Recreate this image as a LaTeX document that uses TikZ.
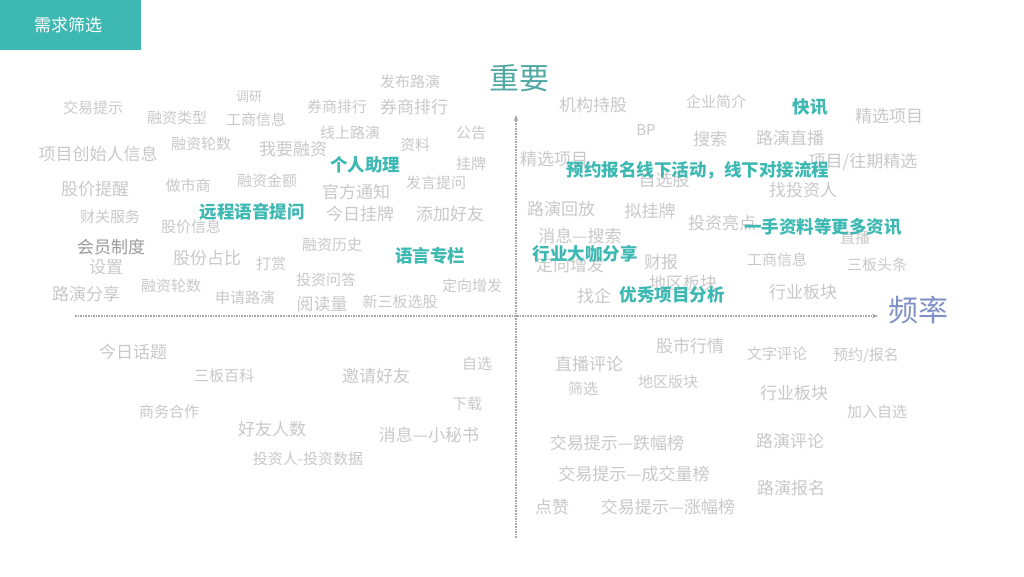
\documentclass[tikz,border=0pt]{standalone}
\usepackage{fontspec}
\setmainfont{Noto Sans CJK SC}
\usetikzlibrary{arrows.meta}
\definecolor{tealc}{HTML}{3DB8B2}
\definecolor{wordgray}{HTML}{C8C8C8}
\definecolor{blueaxis}{HTML}{8090C4}
\tikzset{
  wd/.style={text=wordgray,font=\fontsize{15}{17}\selectfont,inner sep=0pt},
  wdl/.style={wd,font=\fontsize{17}{19}\selectfont},
  wds/.style={wd,font=\fontsize{13}{15}\selectfont},
  key/.style={text=tealc,font=\bfseries\fontsize{17.5}{19}\selectfont,inner sep=0pt},
  axisline/.style={densely dotted,line width=1.6pt,draw=gray!70,-{Stealth[length=6pt]}}
}
\begin{document}
\begin{tikzpicture}[x=1pt,y=-1pt]
\useasboundingbox (0,0) rectangle (1024,576);

% title box
\fill[tealc] (0,0) rectangle (141,50);
\node (title) [text=white,font=\fontsize{17}{19}\selectfont] at (68,25) {需求筛选};

% axes
\coordinate (xs) at (75,316);
\coordinate (xe) at (878,316);
\coordinate (ys) at (516,538);
\coordinate (ye) at (516,115);
\draw[axisline] (xs) -- (xe);
\draw[axisline] (ys) -- (ye);
\node (imp) [text=tealc!70!gray,font=\fontsize{30}{34}\selectfont] at (519,78) {重要};
\node (freq) [text=blueaxis,font=\fontsize{30}{34}\selectfont] at (918,310) {频率};

% left half
\node (w1) [wd] at (93,108) {交易提示};
\node (w2) [wd] at (177,118) {融资类型};
\node (w3) [wds] at (249,97) {调研};
\node (w4) [wd] at (256,120) {工商信息};
\node (w5) [wd] at (337,107) {券商排行};
\node (w6) [wdl] at (414,107) {券商排行};
\node (w7) [wd] at (410,82) {发布路演};
\node (w8) [wd] at (471,133) {公告};
\node (w9) [wd] at (350,133) {线上路演};
\node (w10) [wd] at (415,145) {资料};
\node (w11) [wd] at (201,144) {融资轮数};
\node (w12) [wdl] at (293,149) {我要融资};
\node (w13) [wd] at (471,164) {挂牌};
\node (w14) [wdl] at (98,154) {项目创始人信息};
\node (w15) [wdl] at (95,189) {股价提醒};
\node (w16) [wd] at (188,186) {做市商};
\node (w17) [wd] at (267,181) {融资金额};
\node (w18) [wdl] at (356,192) {官方通知};
\node (w19) [wd] at (436,183) {发言提问};
\node (w20) [wdl] at (360,214) {今日挂牌};
\node (w21) [wdl] at (450,214) {添加好友};
\node (w22) [wd] at (110,217) {财关服务};
\node (w23) [wd] at (191,227) {股价信息};
\node (w24) [wdl,text=gray!80] at (111,247) {会员制度};
\node (w25) [wdl] at (106,267) {设置};
\node (w26) [wdl] at (207,258) {股份占比};
\node (w27) [wd] at (332,245) {融资历史};
\node (w28) [wd] at (271,264) {打赏};
\node (w29) [wd] at (326,280) {投资问答};
\node (w30) [wd] at (472,286) {定向增发};
\node (w31) [wdl] at (86,294) {路演分享};
\node (w32) [wd] at (171,286) {融资轮数};
\node (w33) [wd] at (245,298) {申请路演};
\node (w34) [wdl] at (322,304) {阅读量};
\node (w35) [wd] at (400,302) {新三板选股};
\node (w36) [wdl] at (133,352) {今日话题};
\node (w37) [wd] at (224,376) {三板百科};
\node (w38) [wdl] at (376,376) {邀请好友};
\node (w39) [wd] at (477,364) {自选};
\node (w40) [wd] at (169,412) {商务合作};
\node (w41) [wd] at (467,404) {下载};
\node (w42) [wdl] at (272,429) {好友人数};
\node (w43) [wdl] at (429,435) {消息—小秘书};
\node (w44) [wd] at (308,459) {投资人-投资数据};

% right half
\node (r1) [wdl] at (593,105) {机构持股};
\node (r2) [wd] at (716,102) {企业简介};
\node (r3) [wdl] at (889,116) {精选项目};
\node (r4) [wd] at (646,130) {BP};
\node (r5) [wdl] at (710,139) {搜索};
\node (r6) [wdl] at (790,138) {路演直播};
\node (r7) [wdl] at (554,159) {精选项目};
\node (r8) [wdl] at (664,180) {自选股};
\node (r9) [wdl] at (863,162) {项目/往期精选};
\node (r10) [wdl] at (803,190) {找投资人};
\node (r11) [wdl] at (561,209) {路演回放};
\node (r12) [wdl] at (650,211) {拟挂牌};
\node (r13) [wdl] at (722,223) {投资亮点};
\node (r14) [wd] at (855,238) {直播};
\node (r15) [wdl] at (580,236) {消息—搜索};
\node (r16) [wdl] at (570,265) {定向增发};
\node (r17) [wdl] at (661,262) {财报};
\node (r18) [wd] at (777,260) {工商信息};
\node (r19) [wd] at (877,265) {三板头条};
\node (r20) [wdl] at (683,283) {地区板块};
\node (r21) [wdl] at (594,296) {找企};
\node (r22) [wdl] at (803,292) {行业板块};
\node (r23) [wdl] at (690,346) {股市行情};
\node (r24) [wd] at (777,354) {文字评论};
\node (r25) [wd] at (866,356) {预约/报名};
\node (r26) [wdl] at (589,364) {直播评论};
\node (r27) [wd] at (583,389) {筛选};
\node (r28) [wd] at (668,382) {地区版块};
\node (r29) [wdl] at (794,393) {行业板块};
\node (r30) [wd] at (877,412) {加入自选};
\node (r31) [wdl] at (617,443) {交易提示—跌幅榜};
\node (r32) [wdl] at (790,441) {路演评论};
\node (r33) [wdl] at (634,474) {交易提示—成交量榜};
\node (r34) [wdl] at (791,488) {路演报名};
\node (r35) [wdl] at (552,507) {点赞};
\node (r36) [wdl] at (668,507) {交易提示—涨幅榜};

% key needs
\node (k1) [key] at (365,165) {个人助理};
\node (k2) [key] at (252,212) {远程语音提问};
\node (k3) [key] at (430,256) {语言专栏};
\node (k4) [key] at (810,107) {快讯};
\node (k5) [key] at (698,170) {预约报名线下活动，线下对接流程};
\node (k6) [key] at (823,227) {一手资料等更多资讯};
\node (k7) [key] at (585,254) {行业大咖分享};
\node (k8) [key] at (672,295) {优秀项目分析};
\end{tikzpicture}
\end{document}
